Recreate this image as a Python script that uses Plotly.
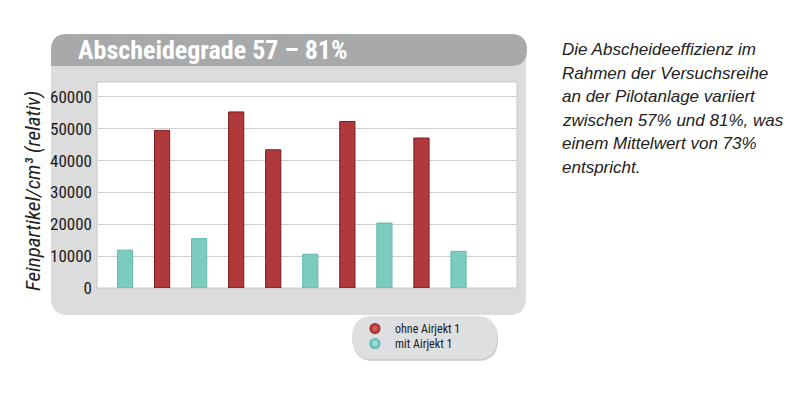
import plotly.graph_objects as go

# ---- data ----
positions = list(range(10))
ohne_pos = [1, 3, 4, 6, 8]
ohne_vals = [49500, 55300, 43400, 52300, 47100]
mit_pos = [0, 2, 5, 7, 9]
mit_vals = [11900, 15500, 10600, 20400, 11500]
y_ticks = [0, 10000, 20000, 30000, 40000, 50000, 60000]
title_text = "Abscheidegrade 57 – 81%"
y_title = "Feinpartikel/cm³ (relativ)"
series_names = ["ohne Airjekt 1", "mit Airjekt 1"]
side_text = ["Die Abscheideeffizienz im", "Rahmen der Versuchsreihe",
             "an der Pilotanlage variiert", "zwischen 57% und 81%, was",
             "einem Mittelwert von 73%", "entspricht."]

# ---- layout geometry (pixels, in reference coordinates) ----
OFF = 8  # page body margin of the html page
W, H = 800 - OFF, 397 - OFF
PL, PR, PT, PB = 97, 517, 82, 288

NARROW = "Liberation Sans Narrow, Arial Narrow, Roboto Condensed, DejaVu Sans Condensed, Liberation Sans, Arial, sans-serif"
REG = "Liberation Sans, Arial, sans-serif"

def px(x):
    return (x - PL) / (PR - PL)

def py(y):
    return (PB - y) / (PB - PT)

def rrect(x0, y0, x1, y1, r, corners=(1, 1, 1, 1)):
    tl, tr, br, bl = [r if c else 0 for c in corners]
    def P(x, y):
        return f"{px(x):.5f},{py(y):.5f}"
    d = f"M {P(x0 + tl, y0)} L {P(x1 - tr, y0)} "
    if tr:
        d += f"Q {P(x1, y0)} {P(x1, y0 + tr)} "
    d += f"L {P(x1, y1 - br)} "
    if br:
        d += f"Q {P(x1, y1)} {P(x1 - br, y1)} "
    d += f"L {P(x0 + bl, y1)} "
    if bl:
        d += f"Q {P(x0, y1)} {P(x0, y1 - bl)} "
    d += f"L {P(x0, y0 + tl)} "
    if tl:
        d += f"Q {P(x0, y0)} {P(x0 + tl, y0)} "
    d += "Z"
    return d

shapes = [
    dict(type="path", xref="paper", yref="paper", layer="below",
         path=rrect(51, 34, 526, 315, 17), fillcolor="#dcdcdd", line=dict(width=0)),
    dict(type="path", xref="paper", yref="paper", layer="below",
         path=rrect(51, 34, 527, 66, 16, (1, 1, 1, 0)), fillcolor="#a8a9ab", line=dict(width=0)),
    dict(type="rect", xref="paper", yref="paper", layer="below",
         x0=px(PL), x1=px(PR), y0=py(PB), y1=py(PT), fillcolor="white",
         line=dict(color="#c8c8c8", width=1)),
    dict(type="path", xref="paper", yref="paper", layer="below",
         path=rrect(353, 318, 498, 361, 21), fillcolor="#cfcfd0", line=dict(width=0)),
    dict(type="path", xref="paper", yref="paper", layer="below",
         path=rrect(352, 316, 497, 359, 21), fillcolor="#dedfe0", line=dict(width=0)),
]

fig = go.Figure()
fig.add_trace(go.Bar(x=ohne_pos, y=ohne_vals, name=series_names[0], width=0.41,
                     marker=dict(color="#b0393b", line=dict(color="#7a1c20", width=1)),
                     showlegend=False))
fig.add_trace(go.Bar(x=mit_pos, y=mit_vals, name=series_names[1], width=0.41,
                     marker=dict(color="#7ccbbf", line=dict(color="#62b9ab", width=1)),
                     showlegend=False))
fig.add_trace(go.Scatter(x=[None], y=[None], mode="markers", name=series_names[0],
                         legend="legend",
                         marker=dict(size=11, color="#a02426",
                                     gradient=dict(type="radial", color="#e07070"))))
fig.add_trace(go.Scatter(x=[None], y=[None], mode="markers", name=series_names[1],
                         legend="legend2",
                         marker=dict(size=11, color="#52b3a5",
                                     gradient=dict(type="radial", color="#b8ece4"))))

annotations = [
    dict(text=f"<b>{title_text}</b>", xref="paper", yref="paper", x=px(76), y=py(50),
         xanchor="left", yanchor="middle", showarrow=False,
         font=dict(family=NARROW, size=26, color="white")),
    dict(text=y_title, xref="paper", yref="paper", x=px(33), y=py(191),
         xanchor="center", yanchor="middle", textangle=-90, showarrow=False,
         font=dict(family=NARROW, size=21, color="#222222", style="italic")),
]
line_tops = [38, 61.5, 85, 108.5, 132, 155.5]
for txt, top in zip(side_text, line_tops):
    annotations.append(dict(text=txt, xref="paper", yref="paper", x=px(560), y=py(top),
                            xanchor="left", yanchor="top", align="left", showarrow=False,
                            font=dict(family=REG, size=17, color="#222222", style="italic")))

leg_common = dict(xanchor="left", yanchor="top", bgcolor="rgba(0,0,0,0)", itemwidth=30,
                  font=dict(family=NARROW, size=12, color="#1a1a1a"))

fig.update_layout(
    width=W, height=H,
    margin=dict(l=PL - OFF, r=W - (PR - OFF), t=PT - OFF, b=H - (PB - OFF), pad=0),
    paper_bgcolor="white", plot_bgcolor="rgba(0,0,0,0)",
    barmode="overlay",
    shapes=shapes, annotations=annotations,
    xaxis=dict(range=[-0.756, 10.578], showticklabels=False, showgrid=False,
               zeroline=False, showline=False, ticks=""),
    yaxis=dict(range=[0, 64700], tickvals=y_ticks, ticktext=[str(v) for v in y_ticks],
               showgrid=True, gridcolor="#cfcfcf", gridwidth=1, zeroline=False,
               showline=False, ticks="", ticklabelstandoff=4,
               tickfont=dict(family=NARROW, size=17, color="#1a1a1a")),
    legend=dict(x=px(355), y=py(314), **leg_common),
    legend2=dict(x=px(355), y=py(329), **leg_common),
    showlegend=True,
)

fig.write_html("out.html")
